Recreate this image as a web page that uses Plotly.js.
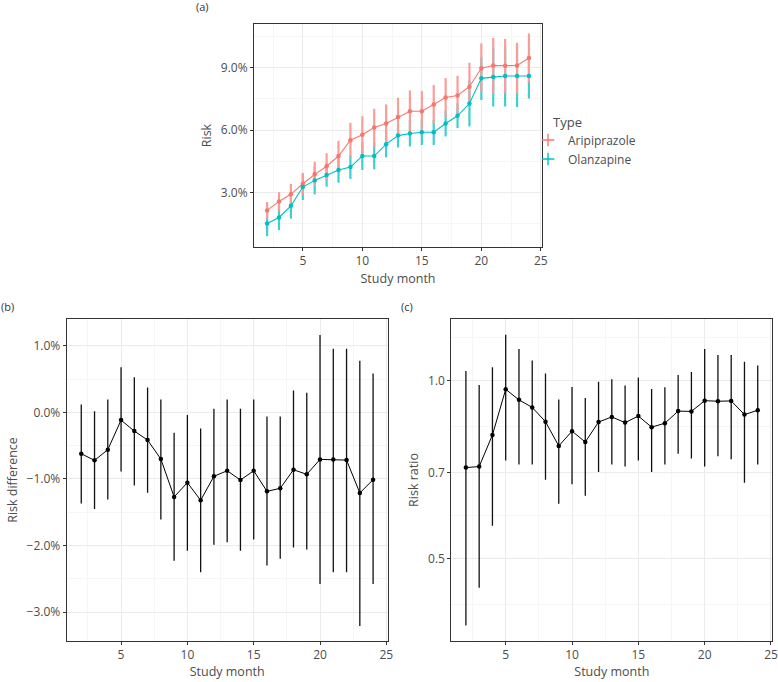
<!DOCTYPE html>
<html>
<head>
<meta charset="utf-8">
<script src="https://cdn.plot.ly/plotly-3.0.1.min.js"></script>
<style>html,body{margin:0;padding:0;background:#fff;}#chart{width:778px;height:682px;}</style>
</head>
<body>
<div id="chart"></div>
<script>
// ---- data (risk values in %) ----
const months = [2,3,4,5,6,7,8,9,10,11,12,13,14,15,16,17,18,19,20,21,22,23,24];

const ariRisk  = [2.15,2.58,2.92,3.43,3.88,4.27,4.76,5.52,5.78,6.13,6.32,6.63,6.91,6.91,7.24,7.57,7.67,8.09,8.98,9.11,9.10,9.11,9.47];
const ariUpper = [2.55,3.02,3.42,3.95,4.48,4.89,5.49,6.35,6.67,7.03,7.24,7.56,7.91,7.88,8.17,8.50,8.61,9.24,10.17,10.44,10.38,10.20,10.64];
const ariLower = [1.75,2.10,2.45,2.89,3.32,3.61,4.09,4.73,4.89,5.21,5.37,5.70,5.94,5.94,6.30,6.58,6.74,7.22,7.86,7.75,7.78,7.75,8.29];

const olaRisk  = [1.52,1.81,2.37,3.27,3.59,3.85,4.09,4.23,4.76,4.76,5.33,5.74,5.84,5.90,5.90,6.32,6.69,7.28,8.49,8.55,8.60,8.60,8.60];
const olaUpper = [2.10,2.40,2.95,3.90,4.25,4.40,4.70,4.80,5.43,5.40,5.96,6.31,6.46,6.50,6.50,6.94,7.28,8.38,9.50,9.95,10.05,10.10,9.68];
const olaLower = [0.91,1.20,1.76,2.65,2.92,3.29,3.48,3.66,4.09,4.12,4.70,5.17,5.22,5.29,5.29,5.70,6.10,6.18,7.45,7.14,7.14,7.11,7.52];

const rdEst   = [-0.62,-0.72,-0.56,-0.115,-0.28,-0.415,-0.70,-1.27,-1.055,-1.32,-0.96,-0.876,-1.016,-0.876,-1.186,-1.14,-0.861,-0.93,-0.706,-0.706,-0.716,-1.21,-1.01];
const rdUpper = [0.12,0.02,0.195,0.68,0.53,0.375,0.195,-0.305,-0.04,-0.24,0.055,0.195,0.055,0.195,-0.06,-0.06,0.33,0.295,1.165,0.956,0.956,0.776,0.586];
const rdLower = [-1.367,-1.45,-1.307,-0.886,-1.096,-1.206,-1.61,-2.228,-2.078,-2.40,-1.99,-1.95,-2.08,-1.91,-2.30,-2.20,-2.03,-2.06,-2.58,-2.40,-2.40,-3.21,-2.58];

const rrEst   = [0.713,0.716,0.810,0.968,0.929,0.902,0.853,0.776,0.822,0.788,0.852,0.869,0.850,0.872,0.835,0.848,0.889,0.888,0.926,0.924,0.925,0.877,0.892];
const rrUpper = [1.040,0.984,1.055,1.198,1.133,1.083,1.030,0.930,0.977,0.936,0.997,1.007,0.983,1.014,0.969,0.976,1.024,1.036,1.133,1.107,1.107,1.078,1.062];
const rrLower = [0.385,0.446,0.568,0.733,0.722,0.722,0.680,0.619,0.668,0.639,0.701,0.722,0.716,0.733,0.701,0.722,0.753,0.739,0.716,0.745,0.737,0.672,0.722];

const riskTicks = [3, 6, 9];
const riskTickText = ['3.0%', '6.0%', '9.0%'];
const rdTicks = [-3, -2, -1, 0, 1];
const rdTickText = ['\u22123.0%', '\u22122.0%', '\u22121.0%', '0.0%', '1.0%'];
const rrTicks = [0.5, 0.7, 1.0];
const rrTickText = ['0.5', '0.7', '1.0'];
const rrMinor = [0.418, 0.5916, 0.8367, 1.183];
const typeNames = ['Aripiprazole', 'Olanzapine'];
const legendTitle = 'Type';

// ---- styling ----
const RED = '#F8766D', TEAL = '#00BFC4';
const RED_BAR = '#F99D97', TEAL_BAR = '#3FCED2';
const FONT = 'Open Sans, Noto Sans, sans-serif';
const TXT = '#4D4D4D';

function diff(a, b) { return a.map((v, i) => v - b[i]); }

// error bars as their own layer (drawn under the lines and points)
function barTrace(y, up, lo, barColor, name) {
  return {
    x: months, y: y, type: 'scatter', mode: 'markers', name: name,
    xaxis: 'x', yaxis: 'y', showlegend: false,
    marker: {size: 1, opacity: 0},
    error_y: {type: 'data', symmetric: false, array: diff(up, y), arrayminus: diff(y, lo),
              width: 0, thickness: 2.2, color: barColor}
  };
}
function riskTrace(y, color, name) {
  return {
    x: months, y: y, type: 'scatter', mode: 'lines+markers', name: name,
    xaxis: 'x', yaxis: 'y', showlegend: false,
    line: {color: color, width: 1.1},
    marker: {color: color, size: 4.5}
  };
}
function blackTrace(y, up, lo, xa, ya) {
  return {
    x: months, y: y, type: 'scatter', mode: 'lines+markers',
    xaxis: xa, yaxis: ya, showlegend: false,
    line: {color: '#000', width: 1},
    marker: {color: '#000', size: 4.5},
    error_y: {type: 'data', symmetric: false, array: diff(up, y), arrayminus: diff(y, lo),
              width: 0, thickness: 1.3, color: '#111'}
  };
}
function legendTrace(color, name) {
  return {
    x: [null], y: [null], type: 'scatter', mode: 'markers', name: name,
    xaxis: 'x', yaxis: 'y', showlegend: true,
    marker: {symbol: 'cross-thin', size: 9, color: color, line: {color: color, width: 1.4}}
  };
}

const data = [
  barTrace(olaRisk, olaUpper, olaLower, TEAL_BAR, typeNames[1]),
  barTrace(ariRisk, ariUpper, ariLower, RED_BAR, typeNames[0]),
  riskTrace(ariRisk, RED, typeNames[0]),
  riskTrace(olaRisk, TEAL, typeNames[1]),
  legendTrace(RED, typeNames[0]),
  legendTrace(TEAL, typeNames[1]),
  blackTrace(rdEst, rdUpper, rdLower, 'x2', 'y2'),
  blackTrace(rrEst, rrUpper, rrLower, 'x3', 'y3')
];

const gridMajor = '#EBEBEB', gridMinor = '#F4F4F4';
function xAxis(domain, anchor) {
  return {
    domain: domain, anchor: anchor, range: [0.9, 25.1],
    tickvals: [5, 10, 15, 20, 25], ticks: 'outside', ticklen: 3, tickcolor: '#333',
    showline: true, mirror: true, linecolor: '#333', linewidth: 1,
    showgrid: true, gridcolor: gridMajor, gridwidth: 1, zeroline: false,
    minor: {tickvals: [2.5, 7.5, 12.5, 17.5, 22.5], showgrid: true, gridcolor: gridMinor, gridwidth: 0.8, ticks: ''},
    tickfont: {family: FONT, size: 12, color: TXT},
    title: {text: 'Study month', font: {family: FONT, size: 12.5, color: TXT}, standoff: 5}
  };
}
function yBase(domain, anchor) {
  return {
    domain: domain, anchor: anchor, ticks: 'outside', ticklen: 3, tickcolor: '#333',
    showline: true, mirror: true, linecolor: '#333', linewidth: 1,
    showgrid: true, gridcolor: gridMajor, gridwidth: 1, zeroline: false,
    tickfont: {family: FONT, size: 12, color: TXT}
  };
}

const yA = Object.assign(yBase([0.6378, 0.9648], 'x'), {
  range: [0.39, 11.1], tickvals: riskTicks, ticktext: riskTickText,
  minor: {tickvals: [1.5, 4.5, 7.5, 10.5], showgrid: true, gridcolor: gridMinor, gridwidth: 0.8, ticks: ''},
  title: {text: 'Risk', font: {family: FONT, size: 12.5, color: TXT}, standoff: 6}
});
const yB = Object.assign(yBase([0.0606, 0.5318], 'x2'), {
  range: [-3.43, 1.40], tickvals: rdTicks, ticktext: rdTickText,
  minor: {tickvals: [-2.5, -1.5, -0.5, 0.5], showgrid: true, gridcolor: gridMinor, gridwidth: 0.8, ticks: ''},
  title: {text: 'Risk difference', font: {family: FONT, size: 12.5, color: TXT}, standoff: 6}
});
const yC = Object.assign(yBase([0.0606, 0.5318], 'x3'), {
  type: 'log', range: [-0.4404, 0.1046], tickvals: rrTicks, ticktext: rrTickText,
  minor: {tickvals: rrMinor, showgrid: true, gridcolor: gridMinor, gridwidth: 0.8, ticks: ''},
  title: {text: 'Risk ratio', font: {family: FONT, size: 12.5, color: TXT}, standoff: 6}
});

const layout = {
  width: 778, height: 682,
  margin: {l: 0, r: 0, t: 0, b: 0},
  paper_bgcolor: '#fff', plot_bgcolor: '#fff',
  font: {family: FONT, color: TXT},
  xaxis: xAxis([0.3265, 0.6967], 'y'),
  yaxis: yA,
  xaxis2: xAxis([0.0857, 0.4983], 'y2'),
  yaxis2: yB,
  xaxis3: xAxis([0.5801, 0.9927], 'y3'),
  yaxis3: yC,
  showlegend: true,
  legend: {
    x: 0.6787, y: 0.816, xanchor: 'left', yanchor: 'top',
    font: {family: FONT, size: 12, color: TXT},
    itemwidth: 30, tracegroupgap: 0, bgcolor: 'rgba(0,0,0,0)'
  },
  annotations: [
    {text: legendTitle, xref: 'paper', yref: 'paper', x: 551/778, y: 1 - 122/682, xanchor: 'left', yanchor: 'middle', showarrow: false, font: {family: FONT, size: 13, color: TXT}},
    {text: '(a)', xref: 'paper', yref: 'paper', x: 202/778, y: 1 - 7/682, xanchor: 'center', yanchor: 'middle', showarrow: false, font: {family: FONT, size: 11, color: '#333'}},
    {text: '(b)', xref: 'paper', yref: 'paper', x: 8/778, y: 1 - 306/682, xanchor: 'center', yanchor: 'middle', showarrow: false, font: {family: FONT, size: 11, color: '#333'}},
    {text: '(c)', xref: 'paper', yref: 'paper', x: 407/778, y: 1 - 306/682, xanchor: 'center', yanchor: 'middle', showarrow: false, font: {family: FONT, size: 11, color: '#333'}}
  ]
};

Plotly.newPlot('chart', data, layout, {displayModeBar: false, staticPlot: true});
</script>
</body>
</html>
